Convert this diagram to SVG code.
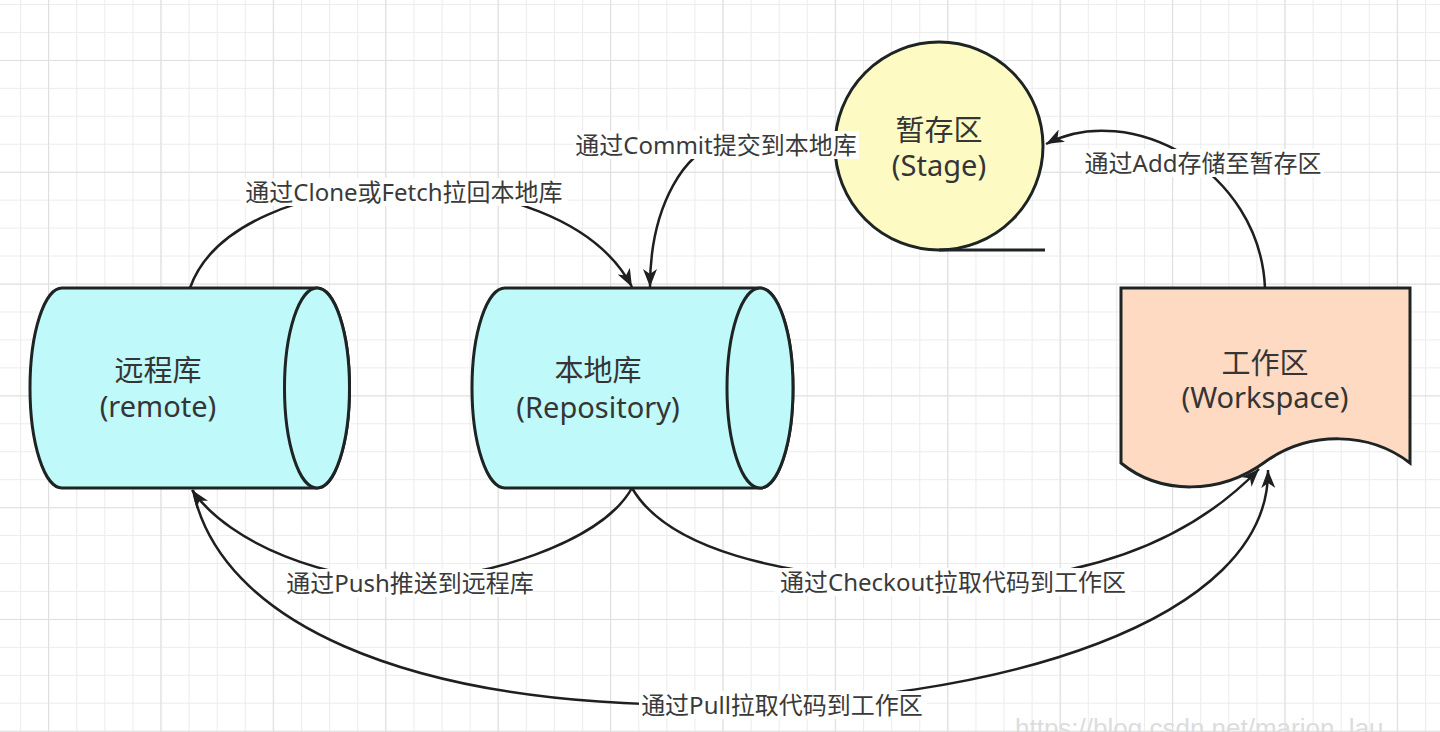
<svg xmlns="http://www.w3.org/2000/svg" width="1440" height="732" viewBox="0 0 1440 732">
  <defs>
    <style>
      .shape { stroke: #1e2424; stroke-width: 3; }
      .cyl { fill: #bff9f9; }
      .node-text { font-family: "Noto Sans", "Noto Sans CJK SC", sans-serif; font-size: 29px; fill: #353535; text-anchor: middle; }
      .edge { fill: none; stroke: #1f1f1f; stroke-width: 2.5; }
      .edge-arrow { marker-end: url(#arrow); }
      .label-bg { fill: #ffffff; }
      .edge-text { font-family: "Noto Sans", "Noto Sans CJK SC", sans-serif; font-size: 24px; fill: #3a3a3a; text-anchor: middle; }
      .watermark { font-family: "Liberation Sans", Arial, sans-serif; font-size: 26px; fill: #dcdcdc; }
    </style>
    <pattern id="gridMinor" patternUnits="userSpaceOnUse" x="20" y="4" width="28.1" height="27.95">
      <path d="M0.5,0 V27.95 M0,0.5 H28.1" fill="none" stroke="#ececec" stroke-width="1.2"/>
    </pattern>
    <pattern id="gridMajor" patternUnits="userSpaceOnUse" x="48" y="60" width="112.4" height="111.8">
      <path d="M0.5,0 V111.8 M0,0.5 H112.4" fill="none" stroke="#dfdfdf" stroke-width="1.2"/>
    </pattern>
    <marker id="arrow" viewBox="0 0 20 14" refX="18" refY="7" markerWidth="20" markerHeight="14" markerUnits="userSpaceOnUse" orient="auto">
      <path d="M0,0 L18,7 L0,14 L5,7 Z" fill="#1f1f1f"/>
    </marker>
  </defs>

  <!-- page background with grid -->
  <rect width="1440" height="732" fill="#ffffff"/>
  <rect width="1440" height="732" fill="url(#gridMinor)"/>
  <rect width="1440" height="732" fill="url(#gridMajor)"/>

  <!-- remote repository (horizontal cylinder) -->
  <g id="remote">
    <path class="shape cyl" d="M62,288 H317 A32.5,100 0 0 1 317,488 H62 A32,100 0 0 1 62,288 Z"/>
    <ellipse class="shape cyl" cx="317" cy="388" rx="32.5" ry="100"/>
    <text class="node-text" x="158" y="381">远程库</text>
    <text class="node-text" x="158" y="417">(remote)</text>
  </g>

  <!-- local repository (horizontal cylinder) -->
  <g id="repository">
    <path class="shape cyl" d="M505,288 H760 A33,100 0 0 1 760,488 H505 A33,100 0 0 1 505,288 Z"/>
    <ellipse class="shape cyl" cx="760" cy="388" rx="33" ry="100"/>
    <text class="node-text" x="598" y="381">本地库</text>
    <text class="node-text" x="598" y="418">(Repository)</text>
  </g>

  <!-- staging area (sequential storage) -->
  <g id="stage">
    <circle class="shape" cx="939" cy="146" r="104" fill="#fdfbc3"/>
    <path class="shape" d="M939,250 H1045" fill="none"/>
    <text class="node-text" x="939" y="141">暂存区</text>
    <text class="node-text" x="939" y="176">(Stage)</text>
  </g>

  <!-- workspace (document) -->
  <g id="workspace">
    <path class="shape" fill="#fedac2" d="M1121,288 H1410 V463 C1370,432 1310,430 1265,462 C1220,495 1160,495 1121,463 Z"/>
    <text class="node-text" x="1265" y="374">工作区</text>
    <text class="node-text" x="1265" y="408">(Workspace)</text>
  </g>

  <!-- connectors -->
  <g id="connectors">
    <path id="edge-clone" class="edge edge-arrow" d="M190,288 C235,160 560,150 632,287"/>
    <path id="edge-commit" class="edge edge-arrow" d="M835,146 H715 C690,150 650,200 650,287"/>
    <path id="edge-add" class="edge edge-arrow" d="M1265,288 C1260,170 1130,100 1046,144"/>
    <path id="edge-push" class="edge edge-arrow" d="M632,488 C600,545 480,578 410,580 C330,582 230,545 192,490"/>
    <path id="edge-checkout" class="edge edge-arrow" d="M632,488 C665,545 770,580 950,582 C1120,580 1210,520 1259,469"/>
    <path id="edge-pull" class="edge edge-arrow" d="M193,490 C220,620 400,705 700,705 C1000,705 1270,620 1268,470"/>
  </g>

  <!-- connector labels -->
  <g id="label-clone">
    <rect class="label-bg" x="241" y="178" width="327" height="28"/>
    <text class="edge-text" x="404" y="201">通过Clone或Fetch拉回本地库</text>
  </g>
  <g id="label-commit">
    <rect class="label-bg" x="573" y="131" width="286" height="28"/>
    <text class="edge-text" x="716" y="154">通过Commit提交到本地库</text>
  </g>
  <g id="label-add">
    <rect class="label-bg" x="1082" y="149" width="242" height="28"/>
    <text class="edge-text" x="1203" y="172">通过Add存储至暂存区</text>
  </g>
  <g id="label-push">
    <rect class="label-bg" x="287" y="569" width="246" height="28"/>
    <text class="edge-text" x="410" y="592">通过Push推送到远程库</text>
  </g>
  <g id="label-checkout">
    <rect class="label-bg" x="775" y="568" width="356" height="28"/>
    <text class="edge-text" x="953" y="591">通过Checkout拉取代码到工作区</text>
  </g>
  <g id="label-pull">
    <rect class="label-bg" x="639" y="691" width="288" height="28"/>
    <text class="edge-text" x="782" y="714">通过Pull拉取代码到工作区</text>
  </g>

  <text class="watermark" x="1015" y="737">https://blog.csdn.net/marion_lau</text>
</svg>
